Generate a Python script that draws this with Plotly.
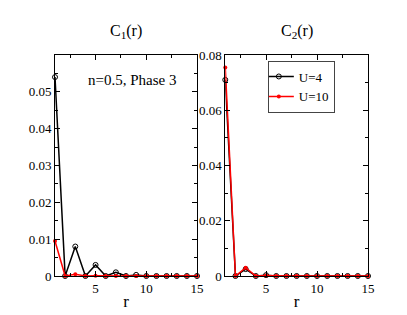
import plotly.graph_objects as go

r = list(range(1, 16))
c1_u4 = [0.054, 0.0, 0.008, 0.0, 0.003, 0.0, 0.001, 0.0, 0.0003, 0.0, 0.0, 0.0, 0.0, 0.0, 0.0]
c1_u10 = [0.0095, 0.0, 0.0005, 0.0, 0.0001, 0.0, 0.0, 0.0, 0.0, 0.0, 0.0, 0.0, 0.0, 0.0, 0.0]
c2_u4 = [0.071, 0.0, 0.0025, 0.0, 0.0003, 0.0, 0.0, 0.0, 0.0, 0.0, 0.0, 0.0, 0.0, 0.0, 0.0]
c2_u10 = [0.0755, 0.0, 0.003, 0.0, 0.0002, 0.0, 0.0, 0.0, 0.0, 0.0, 0.0, 0.0, 0.0, 0.0, 0.0]

FONT = "Times New Roman, Liberation Serif, DejaVu Serif, serif"

fig = go.Figure()

def add(x, y, xa, ya, black, name, show):
    if black:
        fig.add_trace(go.Scatter(x=x, y=y, xaxis=xa, yaxis=ya, mode="lines+markers", name=name,
                                 showlegend=show, cliponaxis=False, line=dict(color="black", width=1.5),
                                 marker=dict(symbol="circle-open", size=5, color="black", line=dict(width=1))))
    else:
        fig.add_trace(go.Scatter(x=x, y=y, xaxis=xa, yaxis=ya, mode="lines+markers", name=name,
                                 showlegend=show, cliponaxis=False, line=dict(color="red", width=1.5),
                                 marker=dict(symbol="circle", size=4, color="red")))

add(r, c1_u4, "x", "y", True, "U=4", False)
add(r, c1_u10, "x", "y", False, "U=10", False)
add(r, c2_u4, "x2", "y2", True, "U=4", True)
add(r, c2_u10, "x2", "y2", False, "U=10", True)

axis_common = dict(showgrid=False, zeroline=False, showline=True, linecolor="black", linewidth=1,
                   mirror="ticks", ticks="inside", ticklen=5, tickcolor="black",
                   tickfont=dict(family=FONT, size=13, color="black"))

fig.update_layout(
    width=407, height=315,
    margin=dict(l=47, r=47, t=47, b=47),
    plot_bgcolor="white", paper_bgcolor="white",
    font=dict(family=FONT, color="black"),
    xaxis=dict(domain=[0, 0.4537], range=[1, 15], tickvals=[5, 10, 15], anchor="y",
               minor=dict(tickvals=[2.5, 7.5, 12.5], ticks="inside", ticklen=3, tickcolor="black"),
               title=dict(text="r", font=dict(family=FONT, size=17), standoff=0), **axis_common),
    yaxis=dict(domain=[0, 1], range=[0, 0.06], tickvals=[0, 0.01, 0.02, 0.03, 0.04, 0.05],
               ticktext=["0", "0.01", "0.02", "0.03", "0.04", "0.05"], anchor="x",
               minor=dict(tickvals=[0.005, 0.015, 0.025, 0.035, 0.045, 0.055], ticks="inside", ticklen=3, tickcolor="black"),
               **axis_common),
    xaxis2=dict(domain=[0.544, 1], range=[1, 15], tickvals=[5, 10, 15], anchor="y2",
                minor=dict(tickvals=[2.5, 7.5, 12.5], ticks="inside", ticklen=3, tickcolor="black"),
                title=dict(text="r", font=dict(family=FONT, size=17), standoff=0), **axis_common),
    yaxis2=dict(domain=[0, 1], range=[0, 0.08], tickvals=[0, 0.02, 0.04, 0.06, 0.08],
                ticktext=["0", "0.02", "0.04", "0.06", "0.08"], anchor="x2",
                minor=dict(tickvals=[0.01, 0.03, 0.05, 0.07], ticks="inside", ticklen=3, tickcolor="black"),
                **axis_common),
    legend=dict(x=0.68, y=0.975, xanchor="left", yanchor="top", bordercolor="#444", borderwidth=1,
                bgcolor="white", font=dict(family=FONT, size=13), tracegroupgap=0,
                itemwidth=30, indentation=-10),
    annotations=[
        dict(text="C<sub>1</sub>(r)", x=0.2268, y=1, xref="paper", yref="paper", xanchor="center",
             yanchor="bottom", yshift=12, showarrow=False, font=dict(family=FONT, size=16)),
        dict(text="C<sub>2</sub>(r)", x=0.772, y=1, xref="paper", yref="paper", xanchor="center",
             yanchor="bottom", yshift=12, showarrow=False, font=dict(family=FONT, size=16)),
        dict(text="n=0.5, Phase 3", x=0.245, y=0.886, xref="paper", yref="paper", xanchor="center",
             yanchor="middle", showarrow=False, font=dict(family=FONT, size=15)),
    ],
)

fig.write_html("out.html")
